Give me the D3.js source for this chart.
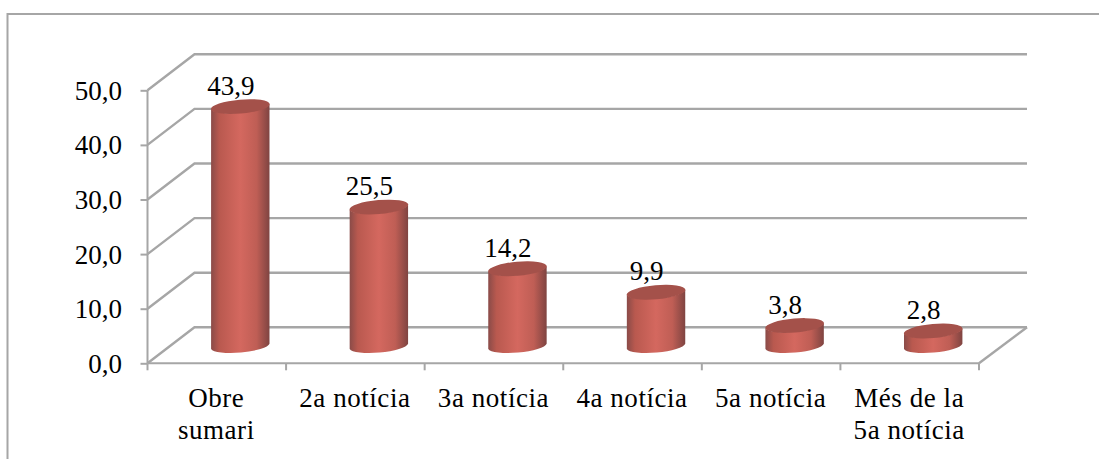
<!DOCTYPE html>
<html><head><meta charset="utf-8">
<script src="https://cdnjs.cloudflare.com/ajax/libs/d3/7.8.5/d3.min.js"></script>
<style>html,body{margin:0;padding:0;background:#fff;overflow:hidden}svg{display:block}text{font-family:"Liberation Serif",serif;fill:#000}</style>
</head><body><div id="c"></div>
<script>
const categories = [["Obre","sumari"],["2a notícia"],["3a notícia"],["4a notícia"],["5a notícia"],["Més de la","5a notícia"]];
const values = [43.9,25.5,14.2,9.9,3.8,2.8];
const yTicks = [0,10,20,30,40,50];

const W=1099,H=459,grid="#a6a6a6";
const svg=d3.select("#c").append("svg").attr("width",W).attr("height",H);
const y=d3.scaleLinear().domain([0,50]).range([363.3,90.3]);
const x=d3.scaleBand().domain(categories.map(c=>c.join(" "))).range([147.5,979]).padding(0);
const dx=47,dy=36;
const comma=d=>d3.format(".1f")(d).replace(".",",");

const defs=svg.append("defs");
const g=defs.append("linearGradient").attr("id","body");
[[0,"#8a4b48"],[.14,"#b9594f"],[.5,"#d4685f"],[.78,"#bf5e55"],[1,"#7f4441"]].forEach(s=>g.append("stop").attr("offset",s[0]).attr("stop-color",s[1]));

svg.append("path").attr("d",`M7.5,${H}V14H${W}`).attr("fill","none").attr("stroke",grid).attr("stroke-width",2);

const L=x.range()[0],R=x.range()[1];
const gl=svg.append("g").attr("fill","none").attr("stroke",grid).attr("stroke-width",2.4);
yTicks.forEach(t=>{
  gl.append("path").attr("d",`M${L},${y(t)}L${L+dx},${y(t)-dy}H${R+dx+1}`);
});
gl.append("path").attr("d",`M${R},${y(0)}L${R+dx+1},${y(0)-dy}`);

const yAxis=d3.axisLeft(y).tickValues(yTicks).tickFormat(comma).tickSize(7).tickPadding(18.5);
const ya=svg.append("g").attr("transform",`translate(${L},0)`).call(yAxis);
ya.selectAll("line").attr("stroke",grid).attr("stroke-width",2);
ya.select(".domain").attr("stroke",grid).attr("stroke-width",2).attr("d",`M0,${y(50)}V${y(0)}`);
ya.selectAll("text").style("font-size","27px").style("font-family",'"Liberation Serif",serif').attr("fill","#000").attr("dy","0.33em");

const fa=svg.append("g").attr("stroke",grid).attr("stroke-width",2).attr("fill","none");
fa.append("path").attr("d",`M${L},${y(0)}H${R}`);
x.domain().forEach((c,i)=>fa.append("path").attr("d",`M${x(c)+x.bandwidth()},${y(0)}v7`));
fa.append("path").attr("d",`M${L},${y(0)}v7`);

const rx=29.5,ry=7,rot=-5,slopeY=2.6,half=29.2;
const cyl=svg.append("g").selectAll("g").data(values).join("g");
const cxOf=i=>x(categories[i].join(" "))+x.bandwidth()/2+dx/2;
const base=y(0)-dy/2+1;
const h=d=>y(0)-y(d);
cyl.append("path").attr("fill","url(#body)").attr("d",(d,i)=>{
  const c=cxOf(i),t=base-h(d);
  return `M${c-half},${t+slopeY}L${c-half},${base+slopeY}A${rx},${ry} ${rot} 0 0 ${c+half},${base-slopeY}L${c+half},${t-slopeY}A${rx},${ry} ${rot} 0 1 ${c-half},${t+slopeY}Z`;
});
cyl.append("ellipse").attr("cx",(d,i)=>cxOf(i)).attr("cy",d=>base-h(d)).attr("rx",rx).attr("ry",ry)
  .attr("transform",(d,i)=>`rotate(${rot} ${cxOf(i)} ${base-h(d)})`).attr("fill","#a4514a");
cyl.append("text").attr("x",(d,i)=>cxOf(i)-9.5).attr("y",d=>base-h(d)-12).attr("text-anchor","middle").style("font-size","27px").text(comma);

const labs=svg.append("g").selectAll("text").data(categories).join("text")
  .attr("text-anchor","middle").style("font-size","27px").style("letter-spacing","0.55px")
  .attr("transform",d=>`translate(${x(d.join(" "))+x.bandwidth()/2-0.5},0)`);
labs.selectAll("tspan").data(d=>d).join("tspan").attr("x",0).attr("y",(d,i)=>407+i*32).text(d=>d);
</script></body></html>
